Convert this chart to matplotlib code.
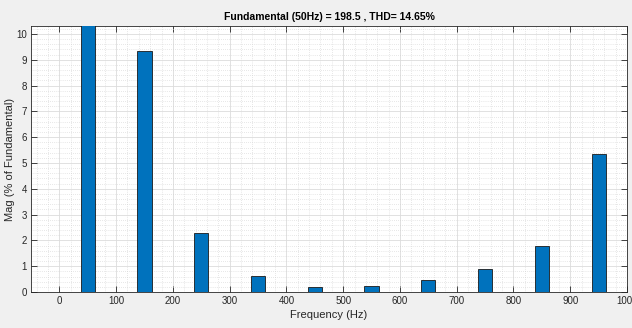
import numpy as np
import matplotlib
matplotlib.use("Agg")
import matplotlib.pyplot as plt
from matplotlib.ticker import MultipleLocator

# harmonic spectrum (% of fundamental)
freqs = [50, 150, 250, 350, 450, 550, 650, 750, 850, 950]
mags = [100.0, 9.35, 2.3, 0.62, 0.2, 0.22, 0.46, 0.91, 1.77, 5.33]
title = "Fundamental (50Hz) = 198.5 , THD= 14.65%"

txt = "#262626"
plt.rcParams["font.family"] = ["Liberation Sans", "DejaVu Sans"]

fig = plt.figure(figsize=(6.32, 3.28), dpi=100, facecolor="#f0f0f0")
ax = fig.add_axes([31 / 632, 1 - 292 / 328, 596 / 632, 266 / 328])

ax.bar(freqs, mags, width=25, color="#0072bd", edgecolor="#1a1a1a", linewidth=0.6, zorder=3)

ax.set_xlim(-50, 1000)
ax.set_ylim(0, 10.31)
ax.xaxis.set_major_locator(MultipleLocator(100))
ax.xaxis.set_minor_locator(MultipleLocator(20))
ax.yaxis.set_major_locator(MultipleLocator(1))
ax.yaxis.set_minor_locator(MultipleLocator(0.2))

ax.grid(which="major", color="#dcdcdc", linewidth=0.6, linestyle="-", zorder=0)
ax.grid(which="minor", color="#d0d0d0", linewidth=0.5, linestyle=(0, (1, 2)), zorder=0)

ax.tick_params(which="major", direction="in", length=4, width=0.6, top=True, right=True,
               labelsize=7, colors=txt, pad=3)
ax.tick_params(which="minor", length=0)
for s in ax.spines.values():
    s.set_color(txt)
    s.set_linewidth(0.6)

ax.set_title(title, fontsize=7.5, fontweight="bold", color="black", pad=4)
ax.set_xlabel("Frequency (Hz)", fontsize=8, color=txt, labelpad=3)
ax.set_ylabel("Mag (% of Fundamental)", fontsize=8, color=txt, labelpad=1)

fig.savefig("out.png", dpi=100, facecolor=fig.get_facecolor())
